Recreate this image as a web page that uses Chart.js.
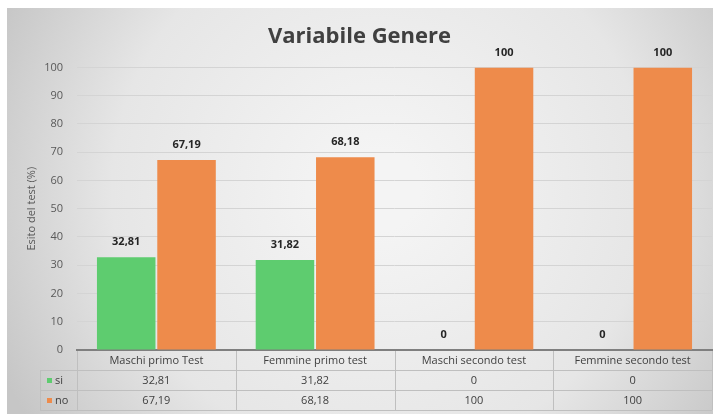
<!DOCTYPE html>
<html>
<head>
<meta charset="utf-8">
<script src="https://cdn.jsdelivr.net/npm/chart.js@4"></script>
<style>
  html, body { margin: 0; padding: 0; background: #fff; }
  #wrap { position: relative; width: 718px; height: 417px; }
</style>
</head>
<body>
<div id="wrap"><canvas id="chart" width="718" height="417"></canvas></div>
<script>
// Data
const categories = ['Maschi primo Test', 'Femmine primo test', 'Maschi secondo test', 'Femmine secondo test'];
const siValues = [32.81, 31.82, 0, 0];
const noValues = [67.19, 68.18, 100, 100];
const seriesNames = ['si', 'no'];
const yMin = 0, yMax = 100, yStep = 10;

const GREEN = '#5ecc6f';
const ORANGE = '#ee8b4b';

const fmt = v => String(v).replace('.', ',');

// gray gradient panel behind everything
const bgPlugin = {
  id: 'bg',
  beforeDraw(chart) {
    const ctx = chart.ctx;
    const x0 = 7, y0 = 8, x1 = 713, y1 = 414;
    const g = ctx.createRadialGradient(380, 190, 40, 380, 190, 420);
    g.addColorStop(0, '#f4f4f4');
    g.addColorStop(0.6, '#e6e6e6');
    g.addColorStop(1, '#c6c6c6');
    ctx.save();
    ctx.fillStyle = g;
    ctx.fillRect(x0, y0, x1 - x0, y1 - y0);
    ctx.restore();
  }
};

// value labels above bars
const labelPlugin = {
  id: 'barLabels',
  afterDatasetsDraw(chart) {
    const ctx = chart.ctx;
    ctx.save();
    ctx.font = 'bold 11px "Open Sans", sans-serif';
    ctx.fillStyle = '#262626';
    ctx.textAlign = 'center';
    ctx.textBaseline = 'middle';
    chart.data.datasets.forEach((ds, i) => {
      chart.getDatasetMeta(i).data.forEach((bar, j) => {
        ctx.fillText(fmt(ds.data[j]), bar.x, bar.y - 15);
      });
    });
    ctx.restore();
  }
};

// data table under the x axis
const tablePlugin = {
  id: 'dataTable',
  afterDraw(chart) {
    const ctx = chart.ctx;
    const xs = chart.scales.x;
    const area = chart.chartArea;
    const colW = (area.right - area.left) / categories.length;
    const rowH = 20;
    const top = area.bottom + 1;
    const legendLeft = 40;
    ctx.save();
    ctx.strokeStyle = '#bfbfbf';
    ctx.lineWidth = 1;
    ctx.beginPath();
    // horizontal lines
    for (let r = 1; r <= 3; r++) {
      const y = Math.round(top + r * rowH - 1) + 0.5;
      ctx.moveTo(legendLeft, y);
      ctx.lineTo(area.right, y);
    }
    // vertical lines
    for (let c = 0; c <= categories.length; c++) {
      const x = Math.round(area.left + c * colW) + 0.5;
      ctx.moveTo(x, top);
      ctx.lineTo(x, top + 3 * rowH - 1);
    }
    ctx.moveTo(legendLeft + 0.5, top + rowH - 1);
    ctx.lineTo(legendLeft + 0.5, top + 3 * rowH - 1);
    ctx.stroke();

    ctx.font = '11px "Open Sans", sans-serif';
    ctx.fillStyle = '#404040';
    ctx.textAlign = 'center';
    ctx.textBaseline = 'middle';
    categories.forEach((cat, i) => {
      const cx = xs.getPixelForValue(i);
      ctx.fillText(cat, cx, top + rowH / 2);
      ctx.fillText(fmt(siValues[i]), cx, top + rowH * 1.5);
      ctx.fillText(fmt(noValues[i]), cx, top + rowH * 2.5);
    });

    // legend keys
    const colors = [GREEN, ORANGE];
    seriesNames.forEach((name, i) => {
      const cy = top + rowH * (1.5 + i);
      ctx.fillStyle = colors[i];
      ctx.fillRect(47, cy - 3, 5, 5);
      ctx.fillStyle = '#404040';
      ctx.textAlign = 'left';
      ctx.fillText(name, 55, cy);
    });
    ctx.restore();
  }
};

new Chart(document.getElementById('chart'), {
  type: 'bar',
  data: {
    labels: categories,
    datasets: [
      { label: seriesNames[0], data: siValues, backgroundColor: GREEN },
      { label: seriesNames[1], data: noValues, backgroundColor: ORANGE }
    ]
  },
  options: {
    responsive: false,
    animation: false,
    categoryPercentage: 0.76,
    barPercentage: 0.97,
    layout: { padding: { left: 7, right: 6, top: 8, bottom: 67 } },
    plugins: {
      legend: { display: false },
      tooltip: { enabled: false },
      title: {
        display: true,
        text: 'Variabile Genere',
        color: '#404040',
        font: { family: '"Open Sans", sans-serif', size: 22, weight: 'bold', lineHeight: 1.2 },
        padding: { top: 16, bottom: 17 }
      }
    },
    scales: {
      x: {
        ticks: { display: false },
        grid: { display: false, drawTicks: false },
        border: { color: '#7f7f7f', width: 2 },
        afterFit(s) { s.height = 0; }
      },
      y: {
        min: yMin,
        max: yMax,
        ticks: {
          stepSize: yStep,
          padding: 14,
          color: '#595959',
          font: { family: '"Open Sans", sans-serif', size: 11 }
        },
        grid: { color: '#d4d4d4', drawTicks: false },
        border: { display: false },
        title: {
          display: true,
          text: 'Esito del test (%)',
          color: '#595959',
          font: { family: '"Open Sans", sans-serif', size: 11 },
          padding: { top: 18, bottom: 0 }
        },
        afterFit(s) { s.width = 70; }
      }
    }
  },
  plugins: [bgPlugin, labelPlugin, tablePlugin]
});
</script>
</body>
</html>
